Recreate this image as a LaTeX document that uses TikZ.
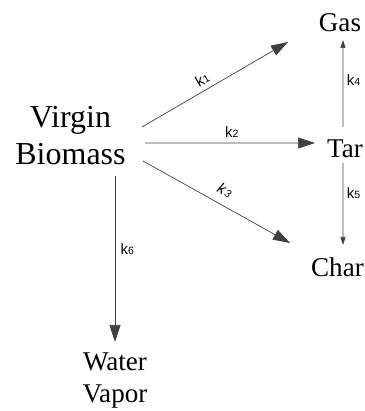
\documentclass[tikz,border=0pt]{standalone}
\usepackage{fontspec}
\setmainfont{Liberation Serif}
\setsansfont{Liberation Sans}
\usetikzlibrary{arrows.meta}
\newcommand{\rk}[1]{k{\fontsize{6}{7}\selectfont #1}}

\begin{document}
\begin{tikzpicture}[
  species/.style={align=center, inner sep=0pt, font=\fontsize{15.4}{18.2}\selectfont},
  arr/.style={-{Triangle[length=0.34cm,width=0.22cm]}, line width=0.4pt, draw=black!75},
  sarr/.style={-{Triangle[length=0.16cm,width=0.1cm]}, line width=0.4pt, draw=black!75},
  rate/.style={font=\sffamily\fontsize{8.5}{9}\selectfont, inner sep=1pt}
]
\useasboundingbox (0,0) rectangle (7.3,8.22);

\node[species, font=\fontsize{18.2}{21}\selectfont] (bio) at (1.41,5.50) {Virgin\\Biomass};
\node[species] (gas) at (6.80,7.76) {Gas};
\node[species] (tar) at (6.90,5.24) {Tar};
\node[species] (char) at (6.75,2.88) {Char};
\node[species] (water) at (2.30,0.60) {Water\\Vapor};

\draw[arr] ([shift={(1.43,0.18)}]bio.center) -- ([shift={(-1.04,-0.38)}]gas.center)
  node[rate, pos=0.45, sloped, above=2pt] {\rk{1}};
\draw[arr] ([shift={(1.49,-0.14)}]bio.center) -- ([shift={(-0.6,0.12)}]tar.center)
  node[rate, pos=0.51, above=2pt] {\rk{2}};
\draw[arr] ([shift={(1.45,-0.5)}]bio.center) -- ([shift={(-0.95,0.48)}]char.center)
  node[rate, pos=0.51, sloped, above=4pt] {\textit{k\kern0.6pt{\fontsize{6}{7}\selectfont 3}}};
\draw[sarr] ([shift={(-0.04,0.44)}]tar.center) -- ([shift={(0.06,-0.34)}]gas.center)
  node[rate, pos=0.54, right=1pt] {\rk{4}};
\draw[sarr] ([shift={(-0.04,-0.28)}]tar.center) -- ([shift={(0.11,0.44)}]char.center)
  node[rate, pos=0.37, right=1pt] {\rk{5}};
\draw[arr] ([shift={(0.89,-0.81)}]bio.center) -- ([shift={(0,0.78)}]water.center)
  node[rate, pos=0.44, right=2pt] {\rk{6}};
\end{tikzpicture}
\end{document}
